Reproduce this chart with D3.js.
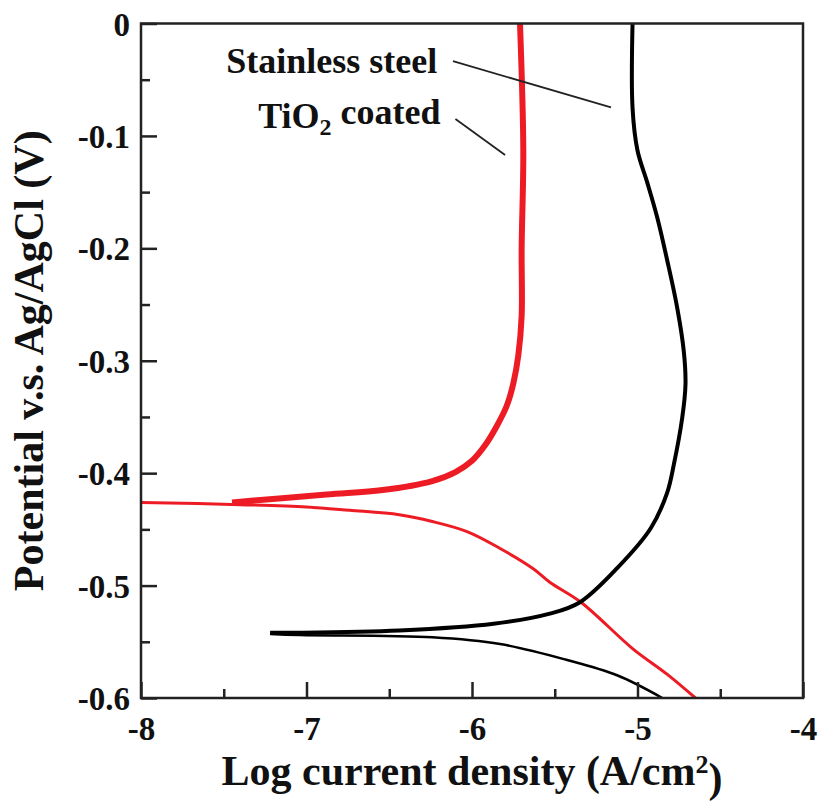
<!DOCTYPE html>
<html>
<head>
<meta charset="utf-8">
<script src="https://cdn.jsdelivr.net/npm/d3@7"></script>
<style>
  body { margin: 0; background: #fff; }
  text { font-family: "Liberation Serif", "Times New Roman", Times, serif; font-weight: bold; }
</style>
</head>
<body>
<div id="chart"></div>
<script>
// [log current density, potential]
const tio2Cathodic = [
  [-4.65, -0.600], [-4.82, -0.579], [-5.03, -0.556], [-5.34, -0.515],
  [-5.53, -0.497], [-5.63, -0.485], [-5.83, -0.467], [-6.03, -0.452],
  [-6.24, -0.443], [-6.44, -0.437], [-6.74, -0.433], [-7.00, -0.430],
  [-7.40, -0.428], [-8.00, -0.426]
];
const tio2Anodic = [
  [-7.45, -0.426], [-6.88, -0.419], [-6.54, -0.415], [-6.24, -0.407],
  [-6.10, -0.399], [-6.00, -0.389], [-5.92, -0.375], [-5.85, -0.358],
  [-5.79, -0.340], [-5.75, -0.320], [-5.72, -0.295], [-5.70, -0.260],
  [-5.70, -0.200], [-5.69, -0.113], [-5.71, 0.000]
];
const steelCathodic = [
  [-4.85, -0.600], [-5.12, -0.580], [-5.43, -0.566], [-5.83, -0.552],
  [-6.24, -0.546], [-7.04, -0.544], [-7.22, -0.543]
];
const steelAnodic = [
  [-7.22, -0.542], [-7.04, -0.542], [-6.44, -0.540], [-5.87, -0.534],
  [-5.53, -0.525], [-5.35, -0.515], [-5.12, -0.484], [-4.92, -0.449],
  [-4.82, -0.417], [-4.78, -0.392], [-4.73, -0.351], [-4.71, -0.321],
  [-4.72, -0.292], [-4.76, -0.253], [-4.82, -0.211], [-4.88, -0.173],
  [-4.94, -0.142], [-5.00, -0.113], [-5.03, -0.075], [-5.03, 0.000]
];
const xTicks = [-8, -7, -6, -5, -4];
const yTicks = [0, -0.1, -0.2, -0.3, -0.4, -0.5, -0.6];
const xMinor = [-7.5, -6.5, -5.5, -4.5];
const yMinor = [-0.05, -0.15, -0.25, -0.35, -0.45, -0.55];

const margin = {top: 23.5, right: 15, bottom: 104, left: 141},
    width = 818 - margin.left - margin.right,
    height = 802 - margin.top - margin.bottom;

const svg = d3.select("#chart")
  .append("svg")
    .attr("width", 818)
    .attr("height", 802)
  .append("g")
    .attr("transform", "translate(" + margin.left + "," + margin.top + ")");

const x = d3.scaleLinear().domain([-8, -4]).range([0, width]);
const y = d3.scaleLinear().domain([-0.6, 0]).range([height, 0]);

svg.append("clipPath").attr("id", "clip")
  .append("rect").attr("width", width).attr("height", height);

const line = d3.line()
  .x(d => x(d[0]))
  .y(d => y(d[1]))
  .curve(d3.curveCatmullRom.alpha(0.5));

const curves = [
  {data: tio2Cathodic, color: "#ed1c24", w: 3},
  {data: tio2Anodic, color: "#ed1c24", w: 6},
  {data: steelCathodic, color: "#000", w: 2.5},
  {data: steelAnodic, color: "#000", w: 4}
];

const plot = svg.append("g").attr("clip-path", "url(#clip)");
curves.forEach(c => {
  plot.append("path")
    .datum(c.data)
    .attr("fill", "none")
    .attr("stroke", c.color)
    .attr("stroke-width", c.w)
    .attr("stroke-linejoin", "round")
    .attr("d", line);
});

// frame
svg.append("rect")
  .attr("width", width)
  .attr("height", height)
  .attr("fill", "none")
  .attr("stroke", "#222")
  .attr("stroke-width", 2.5);

// x axis
svg.append("g")
  .attr("transform", `translate(0,${height})`)
  .call(d3.axisBottom(x).tickValues(xTicks).tickSize(-16).tickPadding(19).tickFormat(d => String(d)));
svg.append("g")
  .attr("transform", `translate(0,${height})`)
  .call(d3.axisBottom(x).tickValues(xMinor).tickSize(-9).tickFormat(""));

// y axis
const yAxis = svg.append("g")
  .call(d3.axisLeft(y).tickValues(yTicks).tickSize(-16).tickPadding(11).tickFormat(d => d === 0 ? "0" : d.toFixed(1)));
svg.append("g")
  .call(d3.axisLeft(y).tickValues(yMinor).tickSize(-9).tickFormat(""));

svg.selectAll(".domain").remove();
svg.selectAll(".tick line").attr("stroke", "#222").attr("stroke-width", 2.5);
svg.selectAll(".tick text")
  .attr("fill", "#111")
  .style("font-size", "33px")
  .style("font-family", "'Liberation Serif', 'Times New Roman', serif")
  .style("font-weight", "bold");
yAxis.selectAll(".tick text").attr("dy", "0.35em");

// axis titles
const xTitle = svg.append("text")
  .attr("text-anchor", "middle")
  .attr("x", width / 2)
  .attr("y", height + 87)
  .style("font-size", "42px")
  .attr("fill", "#111");
xTitle.append("tspan").text("Log current density (A/cm");
xTitle.append("tspan").attr("dy", "-0.45em").style("font-size", "26px").text("2");
xTitle.append("tspan").attr("dy", "0.45em").text(")");

svg.append("text")
  .attr("text-anchor", "middle")
  .attr("transform", "rotate(-90)")
  .attr("x", -height / 2)
  .attr("y", -margin.left + 43)
  .style("font-size", "42px")
  .attr("fill", "#111")
  .text("Potential v.s. Ag/AgCl (V)");

// labels with leader lines
svg.append("text")
  .attr("text-anchor", "end")
  .attr("x", x(-6.21))
  .attr("y", y(-0.044))
  .style("font-size", "36px")
  .attr("fill", "#111")
  .text("Stainless steel");

const tiLabel = svg.append("text")
  .attr("text-anchor", "end")
  .attr("x", x(-6.19))
  .attr("y", y(-0.093))
  .style("font-size", "36px")
  .attr("fill", "#111");
tiLabel.append("tspan").text("TiO");
tiLabel.append("tspan").attr("dy", "0.3em").style("font-size", "24px").text("2");
tiLabel.append("tspan").attr("dy", "-0.3em").text(" coated");

svg.append("line")
  .attr("x1", x(-6.115)).attr("y1", y(-0.0335))
  .attr("x2", x(-5.16)).attr("y2", y(-0.0746))
  .attr("stroke", "#222").attr("stroke-width", 1.8);
svg.append("line")
  .attr("x1", x(-6.10)).attr("y1", y(-0.085))
  .attr("x2", x(-5.80)).attr("y2", y(-0.117))
  .attr("stroke", "#222").attr("stroke-width", 1.8);
</script>
</body>
</html>
